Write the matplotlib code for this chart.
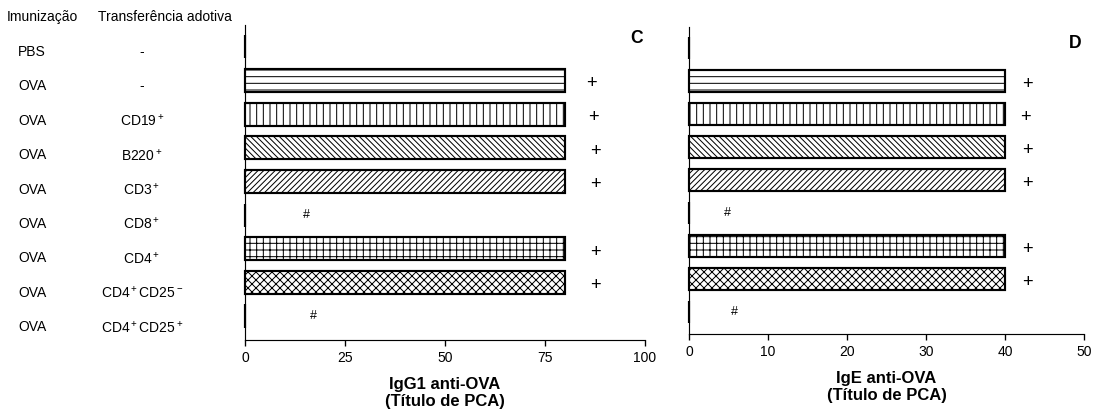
import numpy as np
import matplotlib
matplotlib.use("Agg")
from matplotlib import pyplot as plt

plt.rcParams['font.family'] = ['Liberation Sans', 'DejaVu Sans']
plt.rcParams['mathtext.fontset'] = 'custom'
plt.rcParams['mathtext.rm'] = 'Liberation Sans'
plt.rcParams['hatch.linewidth'] = 0.6

# data
imunizacao = ['PBS', 'OVA', 'OVA', 'OVA', 'OVA', 'OVA', 'OVA', 'OVA', 'OVA']
transferencia = ['-', '-', r'CD19$^+$', r'B220$^+$', r'CD3$^+$', r'CD8$^+$',
                 r'CD4$^+$', r'CD4$^+$CD25$^-$', r'CD4$^+$CD25$^+$']
igg1 = [0, 80, 80, 80, 80, 0, 80, 80, 0]
ige = [0, 40, 40, 40, 40, 0, 40, 40, 0]
marks = ['', '+', '+', '+', '+', '#', '+', '+', '#']
hatches = [None, '---', '|||', '\\' * 7, '/' * 7, None, '+++', 'xxxxx', None]

# where the marks sit (x in data units)
igg1_plus = [0, 86.5, 87, 87.5, 87.5, 0, 87.5, 87.5, 0]
igg1_hash = [0, 0, 0, 0, 0, 15.3, 0, 0, 17]
ige_plus = [0, 42.8, 42.6, 42.8, 42.8, 0, 42.8, 42.9, 0]
ige_hash = [0, 0, 0, 0, 0, 4.9, 0, 0, 5.7]

dpi = 120
fig = plt.figure(figsize=(1095 / dpi, 414 / dpi), dpi=dpi)

W, H = 1095, 414
axC = fig.add_axes([245 / W, 1 - 340 / H, 400 / W, 315 / H])
axD = fig.add_axes([689 / W, 1 - 334 / H, 395 / W, 307 / H])


def draw_panel(ax, vals, plus_x, hash_x, xmax, xt, letter, letter_pos,
               xlabel, ylim):
    n = len(vals)
    y = np.arange(n)
    for i in range(n):
        # zero bars show up as a thick stroke on the axis, so no clipping
        ax.barh(y[i], vals[i], height=0.69, color='white', edgecolor='black',
                linewidth=1.3, hatch=hatches[i], zorder=3, clip_on=False)
        if marks[i] == '+':
            ax.text(plus_x[i], y[i] + 0.1, '+', fontsize=11, ha='center',
                    va='center')
        elif marks[i] == '#':
            ax.text(hash_x[i], y[i], '#', fontsize=7.5, ha='center',
                    va='center')
    ax.set_ylim(*ylim)
    ax.set_xlim(0, xmax)
    ax.set_xticks(xt)
    ax.set_yticks([])
    for s in ['top', 'right']:
        ax.spines[s].set_visible(False)
    for s in ['left', 'bottom']:
        ax.spines[s].set_linewidth(0.7)
    ax.tick_params(axis='x', direction='out', length=3.5, width=0.8,
                   labelsize=8.3, pad=3)
    ax.set_xlabel(xlabel, fontsize=10, fontweight='bold', labelpad=7,
                  linespacing=1.2)
    ax.text(letter_pos[0], letter_pos[1], letter, transform=ax.transAxes,
            fontsize=10.5, fontweight='bold', ha='center', va='center')


draw_panel(axC, igg1, igg1_plus, igg1_hash, 100, [0, 25, 50, 75, 100], 'C',
           (0.98, 0.956), 'IgG1 anti-OVA\n(Título de PCA)', (8.71, -0.65))
draw_panel(axD, ige, ige_plus, ige_hash, 50, [0, 10, 20, 30, 40, 50], 'D',
           (0.977, 0.945), 'IgE anti-OVA\n(Título de PCA)', (8.67, -0.64))

# left label columns
fs = 8.3
fig.text(42 / W, 1 - 17 / H, 'Imunização', fontsize=fs, ha='center',
         va='center')
fig.text(165 / W, 1 - 17 / H, 'Transferência adotiva', fontsize=fs,
         ha='center', va='center')
for i in range(len(imunizacao)):
    yy = 1 - (52 + i * 34.4) / H
    fig.text(18 / W, yy, imunizacao[i], fontsize=fs, ha='left', va='center')
    fig.text(142 / W, yy, transferencia[i], fontsize=fs, ha='center',
             va='center')

fig.savefig('out.png', dpi=dpi)
